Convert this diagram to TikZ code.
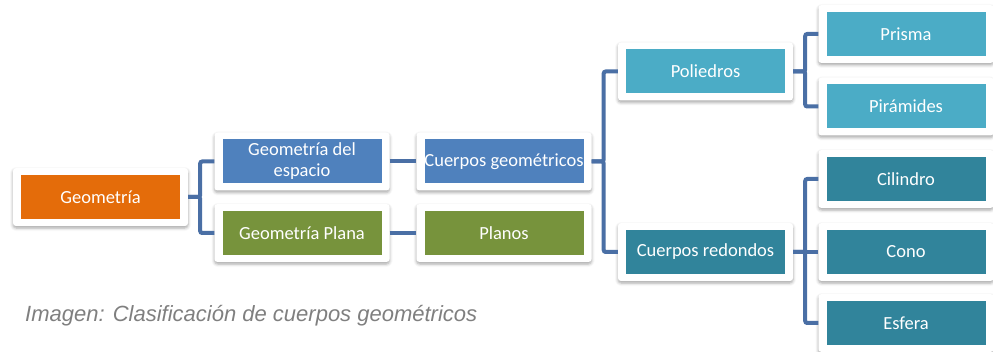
\documentclass[tikz,border=0pt]{standalone}
\usepackage{fontspec}
\setmainfont{Carlito}
\newfontfamily\piefont{Liberation Sans}
\usetikzlibrary{shadows.blur, calc}
\definecolor{naranja}{RGB}{228,108,10}
\definecolor{azulgeo}{RGB}{79,129,189}
\definecolor{verdegeo}{RGB}{119,147,60}
\definecolor{turquesa}{RGB}{75,172,198}
\definecolor{petroleo}{RGB}{49,132,155}
\definecolor{lineazul}{RGB}{74,111,165}
\definecolor{gristexto}{RGB}{127,127,127}

\begin{document}
\begin{tikzpicture}[x=1pt, y=-1pt]
	% Define styles for boxes and connectors
	\tikzset{caja/.style={rectangle, rounded corners=3pt, fill=white, minimum width=175pt, minimum height=58pt, inner sep=0pt,
			text=white, align=center, font=\fontsize{18.5}{21}\selectfont,
			blur shadow={shadow xshift=0pt, shadow yshift=-2pt, shadow blur radius=3pt, shadow opacity=35},
			path picture={\fill[#1, sharp corners] ($(path picture bounding box.south west)+(8pt,7pt)$)
				rectangle ($(path picture bounding box.north east)+(-8pt,-7pt)$);}}}
	\tikzset{enlace/.style={draw=lineazul, line width=4pt, rounded corners=2pt}}
	
	\useasboundingbox (0,0) rectangle (993,352);
	
	% First and second level
	\node[caja=naranja] (geo) at (100.5,197) {Geometría};
	\node[caja=azulgeo] (esp) at (302,161.5) {Geometría del\\espacio};
	\node[caja=verdegeo] (plana) at (302,233) {Geometría Plana};
	
	% Third level
	\node[caja=azulgeo] (cuerpos) at (504,161.5) {Cuerpos geométricos};
	\node[caja=verdegeo] (planos) at (504,233) {Planos};
	
	% Kinds of bodies
	\node[caja=turquesa] (poli) at (705.5,71.5) {Poliedros};
	\node[caja=petroleo] (redondos) at (705.5,252) {Cuerpos redondos};
	
	% Last column
	\node[caja=turquesa] (prisma) at (906,34) {Prisma};
	\node[caja=turquesa] (piramides) at (906,106.5) {Pirámides};
	\node[caja=petroleo] (cilindro) at (906,179) {Cilindro};
	\node[caja=petroleo] (cono) at (906,252) {Cono};
	\node[caja=petroleo] (esfera) at (906,323) {Esfera};
	
	% Connectors
	\draw[enlace] (geo.east) -- ++(12,0) |- (esp.west);
	\draw[enlace] (geo.east) -- ++(12,0) |- (plana.west);
	\draw[enlace] (esp.east) -- (cuerpos.west);
	\draw[enlace] (plana.east) -- (planos.west);
	\draw[enlace] (cuerpos.east) -- ++(12,0) |- (poli.west);
	\draw[enlace] (cuerpos.east) -- ++(12,0) |- (redondos.west);
	\draw[enlace] (poli.east) -- ++(12,0) |- (prisma.west);
	\draw[enlace] (poli.east) -- ++(12,0) |- (piramides.west);
	\draw[enlace] (redondos.east) -- ++(12,0) |- (cilindro.west);
	\draw[enlace] (redondos.east) -- (cono.west);
	\draw[enlace] (redondos.east) -- ++(12,0) |- (esfera.west);
	
	% Caption
	\node[anchor=base west, text=gristexto, font=\piefont\itshape\fontsize{22}{24}\selectfont, inner sep=0pt] (pie) at (25,322) {Imagen: Clasificación de cuerpos geométricos};
\end{tikzpicture}
\end{document}
